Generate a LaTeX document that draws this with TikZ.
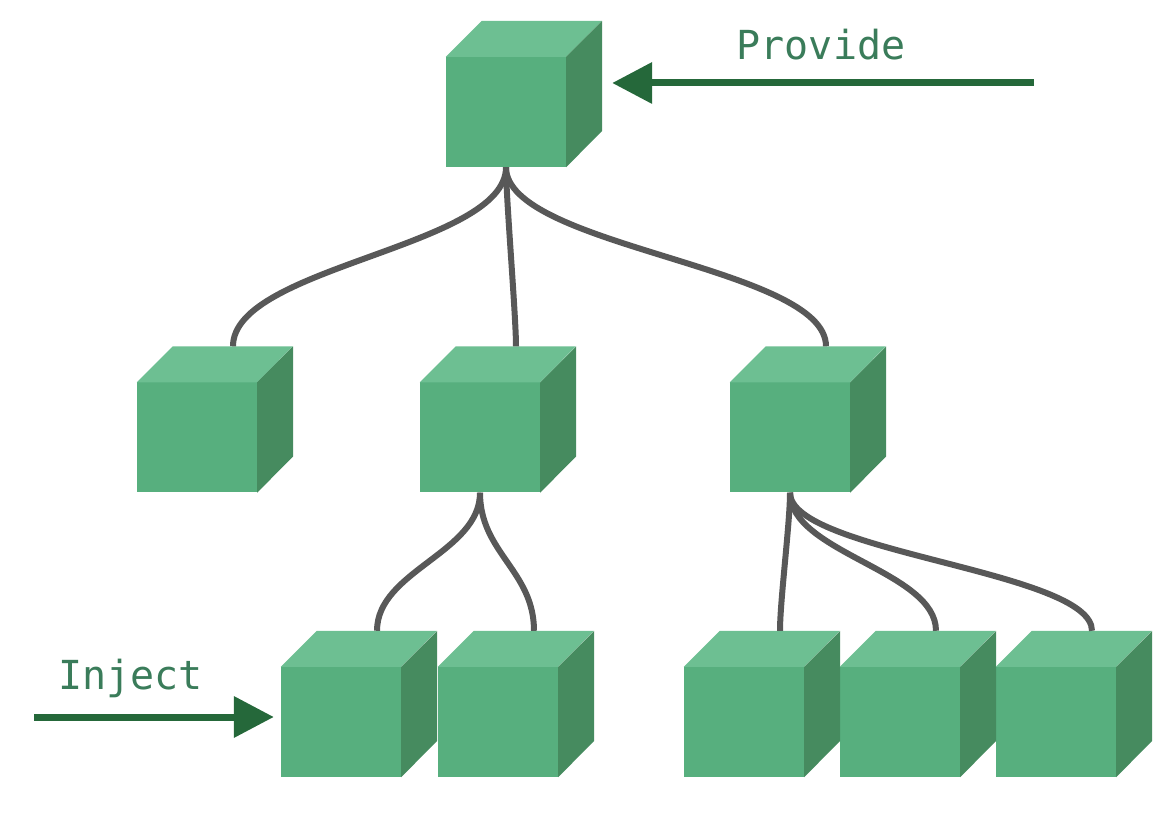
\documentclass[tikz,border=0pt]{standalone}
\usepackage{fontspec}
\setmonofont{DejaVu Sans Mono}
\usepackage{xcolor}
\usetikzlibrary{calc, positioning, arrows.meta}
\definecolor{cubefront}{HTML}{57AF7E}
\definecolor{cubetop}{HTML}{6DBF92}
\definecolor{cubeside}{HTML}{468B5F}
\definecolor{wiregrey}{HTML}{585858}
\definecolor{pushgreen}{HTML}{25683A}
\definecolor{taggreen}{HTML}{3A7C5A}

\begin{document}
\begin{tikzpicture}[x=1pt, y=1pt,
        cube/.style={fill=cubefront, minimum width=120pt, minimum height=110pt, inner sep=0pt},
        link/.style={draw=wiregrey, line width=6pt},
        push/.style={draw=pushgreen, line width=7pt, -{Triangle[length=40pt, width=40pt]}},
        tag/.style={text=taggreen, font=\ttfamily\fontsize{40}{40}\selectfont, anchor=base}]
        \useasboundingbox (0, 0) rectangle (1176, 812);

        \node [cube] (T) at (506, 700) {};

        \node [cube] (A1) at (197, 374.5) {};
        \node [cube] (A2) at (480, 374.5) {};
        \node [cube] (A3) at (790, 374.5) {};

        \node [cube] (B1) at (341, 90) {};
        \node [cube] (B2) at (498, 90) {};
        \node [cube] (B3) at (744, 90) {};
        \node [cube] (B4) at (900, 90) {};
        \node [cube] (B5) at (1056, 90) {};

        % top and side faces, plus the point where a wire lands
        \foreach \n in {T, A1, A2, A3, B1, B2, B3, B4, B5} {
            \fill [cubetop] (\n.north west) -- ++(36, 36) -- ++(120, 0) -- (\n.north east) -- cycle;
            \fill [cubeside] (\n.north east) -- ++(36, 36) -- ++(0, -110) -- (\n.south east) -- cycle;
            \coordinate (\n-t) at ($(\n.north) + (36, 36)$);
        }

        \draw [link] (T.south) .. controls +(0, -80) and +(0, 80) .. (A1-t);
        \draw [link] (T.south) .. controls +(0, -30) and +(0, 30) .. (A2-t);
        \draw [link] (T.south) .. controls +(0, -80) and +(0, 80) .. (A3-t);

        \draw [link] (A2.south) .. controls +(0, -60) and +(0, 60) .. (B1-t);
        \draw [link] (A2.south) .. controls +(0, -60) and +(0, 60) .. (B2-t);

        \draw [link] (A3.south) .. controls +(0, -30) and +(0, 30) .. (B3-t);
        \draw [link] (A3.south) .. controls +(0, -60) and +(0, 60) .. (B4-t);
        \draw [link] (A3.south) .. controls +(0, -60) and +(0, 60) .. (B5-t);

        % provide / inject arrows
        \coordinate (provS) at (1034, 729);
        \coordinate (T-in) at ($(T.east) + (46, 29)$);
        \draw [push] (provS) -- (T-in);
        \node [tag] (provtxt) at (821, 752) {Provide};

        \coordinate (injS) at (34, 95);
        \coordinate (B1-in) at ($(B1.west) + (-7, 5)$);
        \draw [push] (injS) -- (B1-in);
        \node [tag] (injtxt) at (130.5, 122) {Inject};
    \end{tikzpicture}
\end{document}
